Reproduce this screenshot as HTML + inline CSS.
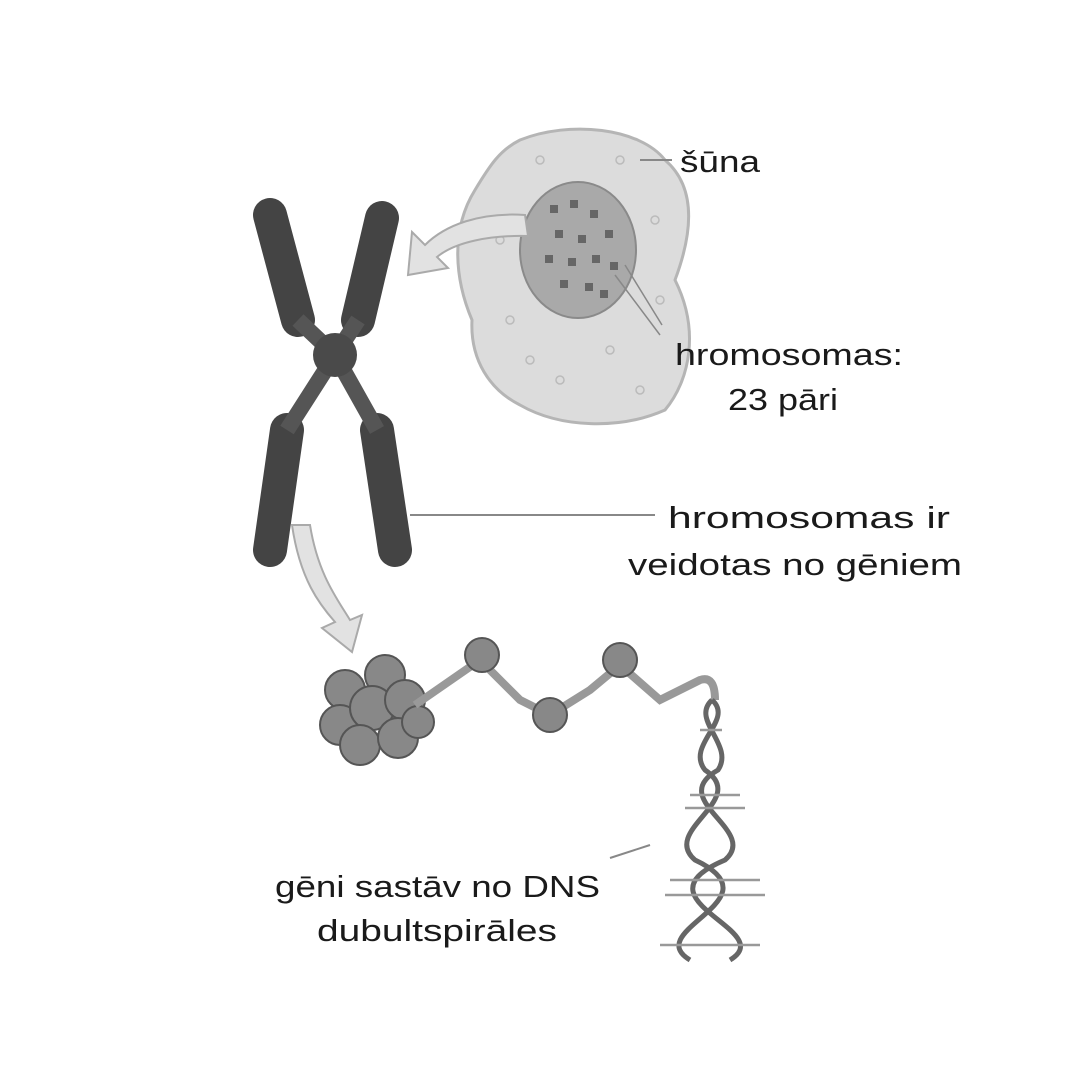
<!DOCTYPE html>
<html><head><meta charset="utf-8"><style>
body{margin:0;background:#fff}
svg{display:block}
text{font-family:"Liberation Sans",sans-serif;font-size:31px;fill:#1a1a1a}
</style></head><body>
<svg width="1080" height="1080" viewBox="0 0 1080 1080">
<!-- cell -->
<path d="M520,140 C570,120 640,128 665,160 C700,190 690,240 675,280 C700,330 690,380 665,410 C620,430 560,428 520,405 C490,390 470,360 472,320 C455,280 450,230 475,190 C490,165 500,150 520,140Z" fill="#dcdcdc" stroke="#b5b5b5" stroke-width="3"/>
<ellipse cx="578" cy="250" rx="58" ry="68" fill="#a9a9a9" stroke="#8a8a8a" stroke-width="2"/>
<g fill="#666">
<rect x="550" y="205" width="8" height="8"/><rect x="570" y="200" width="8" height="8"/><rect x="590" y="210" width="8" height="8"/><rect x="605" y="230" width="8" height="8"/><rect x="555" y="230" width="8" height="8"/><rect x="578" y="235" width="8" height="8"/><rect x="545" y="255" width="8" height="8"/><rect x="568" y="258" width="8" height="8"/><rect x="592" y="255" width="8" height="8"/><rect x="610" y="262" width="8" height="8"/><rect x="560" y="280" width="8" height="8"/><rect x="585" y="283" width="8" height="8"/><rect x="600" y="290" width="8" height="8"/>
</g>
<g fill="none" stroke="#bbb" stroke-width="1.5">
<circle cx="540" cy="160" r="4"/><circle cx="620" cy="160" r="4"/><circle cx="500" cy="240" r="4"/><circle cx="655" cy="220" r="4"/><circle cx="510" cy="320" r="4"/><circle cx="560" cy="380" r="4"/><circle cx="610" cy="350" r="4"/><circle cx="640" cy="390" r="4"/><circle cx="530" cy="360" r="4"/><circle cx="660" cy="300" r="4"/>
</g>
<line x1="640" y1="160" x2="672" y2="160" stroke="#888" stroke-width="2"/>
<line x1="615" y1="275" x2="660" y2="335" stroke="#888" stroke-width="1.5"/>
<line x1="625" y1="265" x2="662" y2="325" stroke="#888" stroke-width="1.5"/>
<!-- arrow cell->chromosome -->
<path d="M525,215 C480,212 445,225 425,245 L412,232 L408,275 L448,268 L437,257 C455,242 490,235 528,236Z" fill="#e2e2e2" stroke="#aaa" stroke-width="2"/>
<!-- chromosome -->
<g stroke="#444" stroke-width="34" stroke-linecap="round" fill="none">
<line x1="270" y1="215" x2="298" y2="320"/>
<line x1="382" y1="218" x2="358" y2="320"/>
<line x1="287" y1="430" x2="270" y2="550"/>
<line x1="377" y1="430" x2="395" y2="550"/>
</g>
<g stroke="#555" stroke-width="16" fill="none">
<path d="M298,320 L335,355 L358,320"/>
<path d="M287,430 L335,355 L377,430"/>
</g>
<circle cx="335" cy="355" r="22" fill="#4a4a4a"/>
<line x1="410" y1="515" x2="655" y2="515" stroke="#888" stroke-width="2"/>
<!-- arrow down -->
<path d="M292,525 C300,580 320,605 335,622 L322,628 L352,652 L362,615 L350,620 C338,600 318,575 310,525Z" fill="#e2e2e2" stroke="#aaa" stroke-width="2"/>
<!-- nucleosome cluster -->
<g fill="#888" stroke="#555" stroke-width="2">
<circle cx="345" cy="690" r="20"/><circle cx="385" cy="675" r="20"/><circle cx="340" cy="725" r="20"/><circle cx="372" cy="708" r="22"/><circle cx="405" cy="700" r="20"/><circle cx="360" cy="745" r="20"/><circle cx="398" cy="738" r="20"/><circle cx="418" cy="722" r="16"/>
</g>
<path d="M415,705 L480,660 L520,700 L550,715 L590,690 L620,665 L660,700 L700,680 Q715,675 715,700" fill="none" stroke="#999" stroke-width="8"/>
<g fill="#888" stroke="#555" stroke-width="2">
<circle cx="482" cy="655" r="17"/><circle cx="550" cy="715" r="17"/><circle cx="620" cy="660" r="17"/>
</g>
<!-- DNA helix -->
<g fill="none" stroke="#666" stroke-width="5">
<path d="M712,700 C735,720 685,745 705,770 C750,800 660,830 695,860 C780,900 640,930 690,960"/>
<path d="M712,700 C690,720 735,745 718,770 C665,800 760,830 725,860 C630,900 780,930 730,960"/>
</g>
<g stroke="#999" stroke-width="2.5">
<line x1="700" y1="730" x2="722" y2="730"/><line x1="690" y1="795" x2="740" y2="795"/><line x1="685" y1="808" x2="745" y2="808"/><line x1="670" y1="880" x2="760" y2="880"/><line x1="665" y1="895" x2="765" y2="895"/><line x1="660" y1="945" x2="760" y2="945"/>
</g>
<line x1="610" y1="858" x2="650" y2="845" stroke="#888" stroke-width="2"/>
<!-- text -->
<text x="680" y="172" textLength="80" lengthAdjust="spacingAndGlyphs">šūna</text>
<text x="675" y="365" textLength="228" lengthAdjust="spacingAndGlyphs">hromosomas:</text>
<text x="728" y="410" textLength="110" lengthAdjust="spacingAndGlyphs">23 pāri</text>
<text x="668" y="528" textLength="282" lengthAdjust="spacingAndGlyphs">hromosomas ir</text>
<text x="628" y="575" textLength="334" lengthAdjust="spacingAndGlyphs">veidotas no gēniem</text>
<text x="275" y="897" textLength="325" lengthAdjust="spacingAndGlyphs">gēni sastāv no DNS</text>
<text x="317" y="941" textLength="240" lengthAdjust="spacingAndGlyphs">dubultspirāles</text>
</svg>
</body></html>
